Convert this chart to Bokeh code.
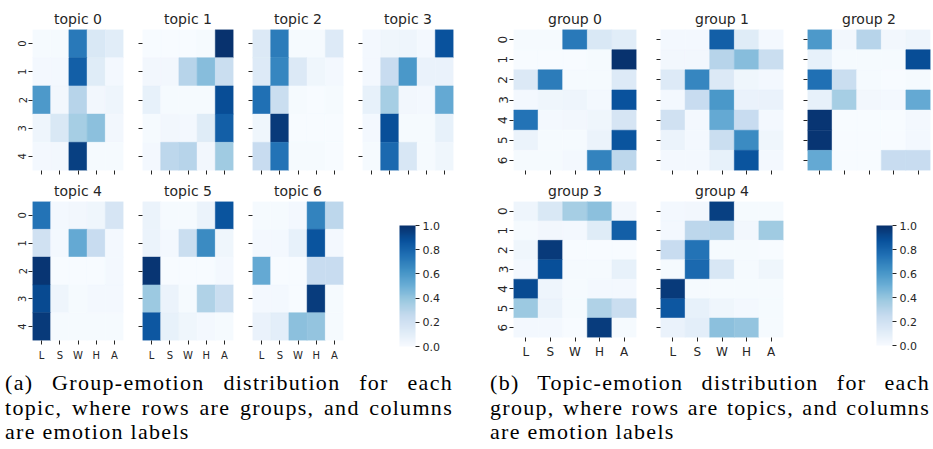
import numpy as np
from bokeh.plotting import figure
from bokeh.models import (FactorRange, LinearColorMapper, ColorBar, FixedTicker,
                          PrintfTickFormatter, Div, Spacer, ColumnDataSource,
                          CustomLabelingPolicy)
from bokeh.layouts import row, column
from bokeh.transform import transform
from bokeh.embed import file_html
from bokeh.resources import INLINE

# ---------------- data ----------------
emotions = ["L", "S", "W", "H", "A"]
cbar_ticks = [0.0, 0.2, 0.4, 0.6, 0.8, 1.0]

# topic_k[g] = emotion distribution of group g under topic k
topic_0 = [[0.01, 0.01, 0.72, 0.15, 0.11],
           [0.02, 0.02, 0.82, 0.12, 0.02],
           [0.59, 0.03, 0.30, 0.03, 0.05],
           [0.05, 0.15, 0.35, 0.42, 0.03],
           [0.02, 0.03, 0.94, 0.01, 0.01]]
topic_1 = [[0.00, 0.00, 0.00, 0.01, 0.99],
           [0.03, 0.03, 0.30, 0.43, 0.23],
           [0.08, 0.01, 0.01, 0.01, 0.89],
           [0.01, 0.03, 0.02, 0.12, 0.82],
           [0.02, 0.28, 0.30, 0.03, 0.37]]
topic_2 = [[0.14, 0.71, 0.01, 0.01, 0.13],
           [0.13, 0.67, 0.14, 0.04, 0.02],
           [0.75, 0.23, 0.01, 0.00, 0.01],
           [0.04, 0.96, 0.00, 0.00, 0.00],
           [0.24, 0.74, 0.01, 0.01, 0.00]]
topic_3 = [[0.02, 0.04, 0.05, 0.02, 0.87],
           [0.02, 0.24, 0.60, 0.07, 0.07],
           [0.08, 0.35, 0.03, 0.02, 0.52],
           [0.02, 0.88, 0.01, 0.01, 0.08],
           [0.01, 0.78, 0.16, 0.01, 0.04]]
topic_4 = [[0.74, 0.02, 0.03, 0.04, 0.17],
           [0.20, 0.02, 0.52, 0.24, 0.02],
           [0.98, 0.00, 0.00, 0.00, 0.02],
           [0.90, 0.05, 0.01, 0.02, 0.02],
           [0.96, 0.01, 0.01, 0.01, 0.01]]
topic_5 = [[0.06, 0.01, 0.01, 0.06, 0.86],
           [0.06, 0.02, 0.23, 0.65, 0.04],
           [0.98, 0.00, 0.00, 0.00, 0.02],
           [0.38, 0.06, 0.01, 0.32, 0.23],
           [0.85, 0.08, 0.04, 0.02, 0.01]]
topic_6 = [[0.01, 0.01, 0.02, 0.68, 0.28],
           [0.02, 0.02, 0.08, 0.86, 0.02],
           [0.52, 0.00, 0.00, 0.24, 0.24],
           [0.02, 0.02, 0.00, 0.95, 0.01],
           [0.07, 0.10, 0.42, 0.40, 0.01]]

topics = [topic_0, topic_1, topic_2, topic_3, topic_4, topic_5, topic_6]
n_groups = 5
# group view: rows are topics
groups = [[topics[t][g] for t in range(len(topics))] for g in range(n_groups)]

caption_a = ["(a) Group-emotion distribution for each",
             "topic, where rows are groups, and columns",
             "are emotion labels"]
caption_b = ["(b) Topic-emotion distribution for each",
             "group, where rows are topics, and columns",
             "are emotion labels"]

# ---------------- palette ----------------
try:
    from bokeh.palettes import Blues256
    palette = list(reversed(Blues256))
except Exception:
    b9 = ['#f7fbff', '#deebf7', '#c6dbef', '#9ecae1', '#6baed6',
          '#4292c6', '#2171b5', '#08519c', '#08306b']
    rgb = np.array([[int(c[i:i + 2], 16) for i in (1, 3, 5)] for c in b9], float)
    t = np.linspace(0, 8, 256)
    palette = []
    for tt in t:
        i = min(int(tt), 7)
        f = tt - i
        c = rgb[i] * (1 - f) + rgb[i + 1] * f
        palette.append('#%02x%02x%02x' % tuple(int(round(v)) for v in c))

mapper = LinearColorMapper(palette=palette, low=0.0, high=1.0)
TXT = "#262626"
FONT = "DejaVu Sans"


def no_labels():
    return CustomLabelingPolicy(code="return []")


def heatmap(mat, title, show_y, show_x, left, right, top, bottom, fw, fh,
            tick_fs, title_fs, x_standoff):
    nrow = len(mat)
    rows = [str(i) for i in range(nrow)]
    xs, ys, vs = [], [], []
    for r in range(nrow):
        for c, e in enumerate(emotions):
            xs.append(e)
            ys.append(rows[r])
            vs.append(mat[r][c])
    src = ColumnDataSource(dict(x=xs, y=ys, v=vs))
    p = figure(width=left + fw + right, height=top + fh + bottom,
               x_range=FactorRange(factors=emotions),
               y_range=FactorRange(factors=rows[::-1]),
               output_backend="svg", toolbar_location=None,
               min_border_left=left, min_border_right=right,
               min_border_top=top, min_border_bottom=bottom)
    p.rect(x="x", y="y", width=1, height=1, source=src,
           fill_color=transform("v", mapper),
           line_color=transform("v", mapper), line_width=0.5)
    p.grid.visible = False
    p.outline_line_color = None
    p.title.text = title
    p.title.align = "center"
    p.title.text_font = FONT
    p.title.text_font_style = "normal"
    p.title.text_font_size = f"{title_fs}px"
    p.title.text_color = TXT
    p.title.standoff = 5
    for ax in (p.xaxis[0], p.yaxis[0]):
        ax.axis_line_color = None
        ax.major_tick_in = 0
        ax.major_tick_out = 4
        ax.major_tick_line_color = TXT
        ax.major_label_text_font = FONT
        ax.major_label_text_color = TXT
    p.yaxis.major_label_orientation = "vertical"
    p.yaxis.major_label_standoff = 2
    p.xaxis.major_label_standoff = x_standoff
    if show_x:
        p.xaxis.major_label_text_font_size = f"{tick_fs}px"
    else:
        p.xaxis.major_label_text_font_size = "0px"
        p.xaxis.major_label_standoff = 0
        p.xaxis.major_label_policy = no_labels()
    if show_y:
        p.yaxis.major_label_text_font_size = f"{tick_fs}px"
    else:
        p.yaxis.major_label_text_font_size = "0px"
        p.yaxis.major_label_standoff = 0
        p.yaxis.major_label_policy = no_labels()
    return p


def cbar_fig(w, left, top, fh, bottom, bar_h, gap):
    # figure borders equal to those of the neighbouring heatmaps, so that the
    # frames of the row stay aligned; the bar sits `gap` px inside the frame
    p = figure(width=w, height=top + fh + bottom, output_backend="svg",
               toolbar_location=None,
               x_axis_location=None, y_axis_location=None,
               x_range=(0, 1), y_range=(0, 1),
               min_border_left=left, min_border_top=top,
               min_border_right=0, min_border_bottom=bottom)
    p.grid.visible = False
    p.outline_line_color = None
    p.background_fill_color = None
    p.border_fill_color = None
    cb = ColorBar(color_mapper=mapper, ticker=FixedTicker(ticks=cbar_ticks),
                  formatter=PrintfTickFormatter(format="%.1f"),
                  width=16, height=bar_h, location="top_left",
                  padding=0, margin=gap, major_tick_in=0, major_tick_out=4,
                  major_tick_line_color=TXT, bar_line_color=None,
                  border_line_color=None, background_fill_color=None,
                  major_label_text_font=FONT, major_label_text_font_size="11px",
                  major_label_text_color=TXT, label_standoff=3,
                  orientation="vertical")
    p.add_layout(cb)
    return p


def caption(lines, width):
    parts = []
    for i, ln in enumerate(lines):
        last = i == len(lines) - 1
        al = "left" if last else "justify"
        parts.append(f'<div style="text-align:{al};text-align-last:{al};">{ln}</div>')
    html = ('<div style="font-family:\'Liberation Serif\', serif;font-size:22px;'
            'letter-spacing:1.3px;line-height:24.5px;color:#000;padding-top:5px;'
            f'width:{width}px;">' + "".join(parts) + '</div>')
    return Div(text=html, width=width, height=75, margin=(0, 0, 0, 0))


# ---------------- panel (a) ----------------
TW, TH = 91, 141
a1 = [heatmap(topics[0], "topic 0", True, False, 32, 9, 29, 8, TW, TH, 10, 14, 5)]
for k in (1, 2, 3):
    a1.append(heatmap(topics[k], f"topic {k}", False, False, 10, 9, 29, 8, TW, TH, 10, 14, 5))
a2 = [heatmap(topics[4], "topic 4", True, True, 32, 9, 21, 26, TW, TH, 10, 14, 5)]
for k in (5, 6):
    a2.append(heatmap(topics[k], f"topic {k}", False, True, 10, 9, 21, 26, TW, TH, 10, 14, 5))
cb_a = cbar_fig(110, 23, 21, TH, 26, 121, 24)

panel_a = column(row(*a1), row(*a2, cb_a),
                 row(Spacer(width=5, height=75), caption(caption_a, 448)))

# ---------------- panel (b) ----------------
GW = 123
b1 = [heatmap(groups[0], "group 0", True, False, 24, 14, 29, 8, GW, 141, 12, 14, 3),
      heatmap(groups[1], "group 1", False, False, 10, 14, 29, 8, GW, 141, 12, 14, 3),
      heatmap(groups[2], "group 2", False, False, 10, 3, 29, 8, GW, 141, 12, 14, 3)]
b2 = [heatmap(groups[3], "group 3", True, True, 24, 14, 20, 29, GW, 139, 12, 14, 3),
      heatmap(groups[4], "group 4", False, True, 10, 14, 20, 29, GW, 139, 12, 14, 3)]
cb_b = cbar_fig(136, 55, 20, 139, 29, 120, 24)

panel_b = column(row(*b1), row(*b2, cb_b),
                 row(Spacer(width=1, height=75), caption(caption_b, 440)))

layout = row(panel_a, Spacer(width=27, height=441), panel_b)

open("out.html", "w").write(file_html(layout, INLINE))
